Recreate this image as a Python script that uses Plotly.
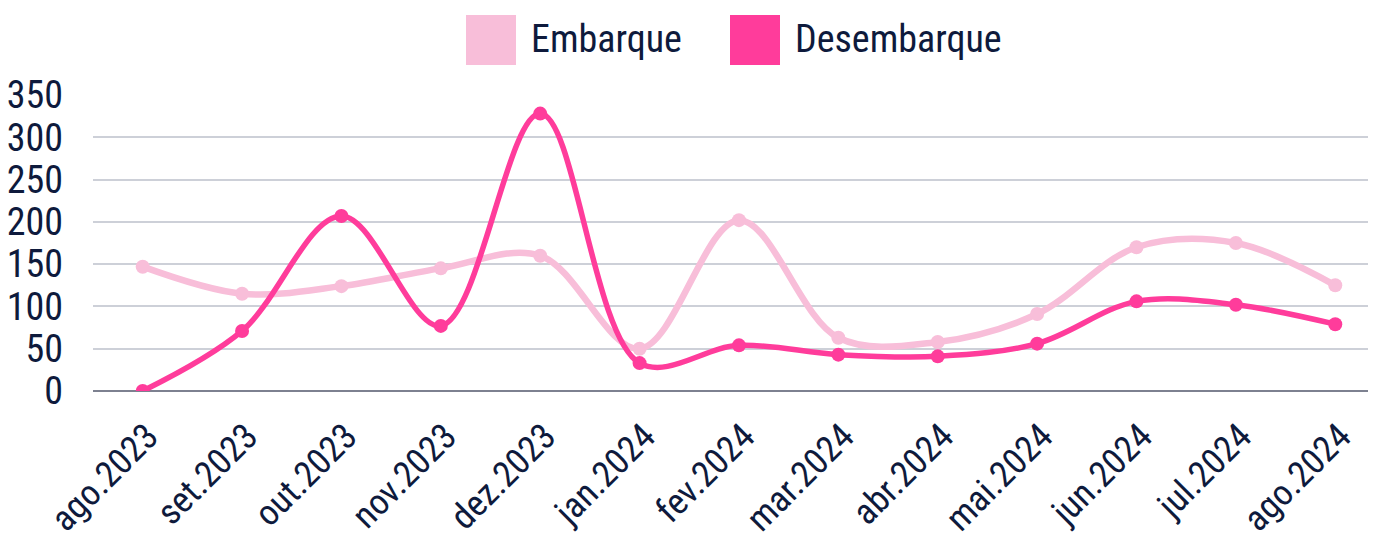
import plotly.graph_objects as go

categories = ["ago.2023", "set.2023", "out.2023", "nov.2023", "dez.2023", "jan.2024",
              "fev.2024", "mar.2024", "abr.2024", "mai.2024", "jun.2024", "jul.2024", "ago.2024"]
embarque = [147, 115, 124, 145, 160, 50, 202, 63, 58, 91, 170, 175, 125]
desembarque = [0, 71, 207, 77, 328, 33, 54, 43, 41, 56, 106, 102, 79]
y_ticks = [0, 50, 100, 150, 200, 250, 300, 350]

FONT = "Roboto Condensed, Open Sans Condensed, sans-serif"
TXT = "#0e1a3c"
C_EMB = "#f8bed9"
C_DES = "#ff3c9b"

# page body has an 8px default margin: the figure is drawn from (8, 8)
OFF = 8
W, H = 1376 - OFF, 539 - OFF
L, T = 93 - OFF, 95 - OFF
PW, PH = W - L, 296

fig = go.Figure()
fig.add_trace(go.Scatter(x=categories, y=embarque, name="Embarque", mode="lines+markers",
                         line=dict(color=C_EMB, width=6.5, shape="spline", smoothing=1.0),
                         marker=dict(color=C_EMB, size=14), showlegend=False))
fig.add_trace(go.Scatter(x=categories, y=desembarque, name="Desembarque", mode="lines+markers",
                         line=dict(color=C_DES, width=5.5, shape="spline", smoothing=1.0),
                         marker=dict(color=C_DES, size=14), showlegend=False))

# manual legend (big squares), positions in screen pixels
legend_items = [("Embarque", C_EMB, 466), ("Desembarque", C_DES, 730)]
def px_x(x):
    return (x - 93) / PW
def px_y(y):
    return (391 - y) / PH
for name, col, x0 in legend_items:
    fig.add_shape(type="rect", xref="paper", yref="paper",
                  x0=px_x(x0), x1=px_x(x0 + 50), y0=px_y(65), y1=px_y(15),
                  fillcolor=col, line=dict(width=0), layer="above")
    fig.add_annotation(text=name, xref="paper", yref="paper",
                       x=px_x(x0 + 63), y=px_y(39),
                       xanchor="left", yanchor="middle", showarrow=False,
                       font=dict(family=FONT, size=38, color=TXT))

fig.update_layout(
    width=W, height=H,
    margin=dict(l=L, r=0, t=T, b=H - T - PH, pad=0),
    paper_bgcolor="white", plot_bgcolor="white",
    font=dict(family=FONT, size=38, color=TXT),
    showlegend=False,
    xaxis=dict(type="category", range=[-0.5, 12.41], showgrid=False, zeroline=False,
               tickangle=-45, tickfont=dict(family=FONT, size=36, color=TXT),
               ticklabelstandoff=16, ticklabelshift=5,
               showline=False, ticks="", automargin=False),
    yaxis=dict(range=[0, 350], tickvals=y_ticks, showgrid=True, gridcolor="#cdd0d8",
               gridwidth=1.5, zeroline=True, zerolinecolor="#7d8190", zerolinewidth=1.5,
               tickfont=dict(family=FONT, size=38, color=TXT), ticklabelstandoff=29,
               showline=False, ticks="", automargin=False),
)

fig.write_html("out.html")
